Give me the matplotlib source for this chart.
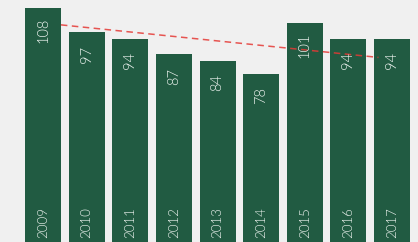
import matplotlib
matplotlib.use("Agg")
import matplotlib.pyplot as plt
import matplotlib.transforms as mtransforms

years = ["2009", "2010", "2011", "2012", "2013", "2014", "2015", "2016", "2017"]
values = [108, 97, 94, 87, 84, 78, 101, 94, 94]
trend_x = [0.41, 7.69]
trend_y = [100.3, 85.5]

plt.rcParams['lines.scale_dashes'] = False
plt.rcParams['font.family'] = ['Lato', 'DejaVu Sans']

bg = '#f0f0f0'
bar_color = '#215b42'
txt_color = '#eef4f0'

fig = plt.figure(figsize=(4.18, 2.42), dpi=100, facecolor=bg)
ax = fig.add_axes([0, 0, 1, 1])
ax.set_facecolor(bg)

x = list(range(len(years)))
ax.bar(x, values, width=0.825, color=bar_color, zorder=2)

blend = mtransforms.blended_transform_factory(ax.transData, ax.transAxes)
for xi, v, yr in zip(x, values, years):
    ax.annotate(str(v), (xi, v), xytext=(0, -22), textcoords='offset pixels',
                rotation=90, ha='center', va='center', color=txt_color,
                fontsize=10.5, fontweight=300, zorder=4)
    ax.text(xi, 0.0165, yr, transform=blend, rotation=90, ha='center',
            va='bottom', color=txt_color, fontsize=9.5, fontweight=300,
            zorder=4)

ax.plot(trend_x, trend_y, color='#e53935', alpha=0.85, lw=1.1,
        linestyle=(0, (4.7, 3.2)), zorder=3)

ax.set_xlim(-0.986, 8.596)
ax.set_ylim(1.6, 111.6)
ax.axis('off')

fig.savefig('out.png', dpi=100, facecolor=bg)
